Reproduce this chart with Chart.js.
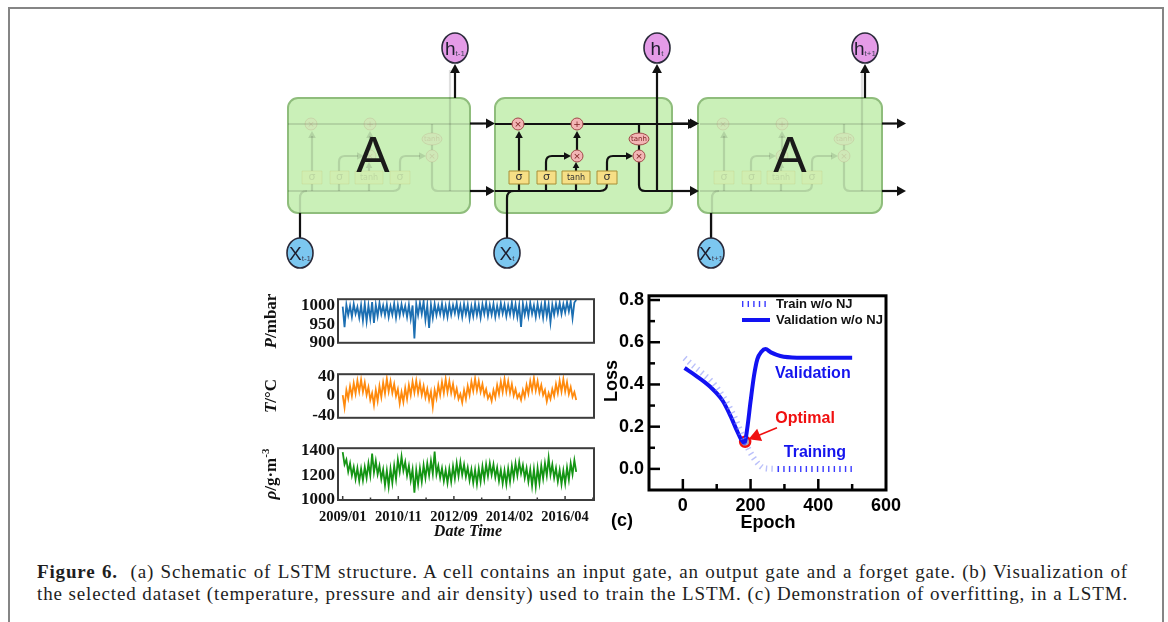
<!DOCTYPE html>
<html>
<head>
<meta charset="utf-8">
<script src="https://cdn.jsdelivr.net/npm/chart.js@4.4.1/dist/chart.umd.min.js"></script>
<style>
  body { margin: 0; background: #fff; width: 1168px; height: 622px; overflow: hidden; position: relative; }
  canvas { position: absolute; }
  #frame { position: absolute; left: 8px; top: 7px; width: 1152px; height: 640px;
           border-left: 2px solid #858585; border-top: 2px solid #858585; border-right: 2px solid #858585; }
  #cap { position: absolute; left: 37px; top: 561px; width: 1091px; font: 19px "Liberation Serif", serif; line-height: 22px;
         color: #1e1e1e; letter-spacing: 0.85px; }
  #cap div { white-space: nowrap; text-align: justify; text-align-last: justify; }
</style>
</head>
<body>
<div id="frame"></div>
<canvas id="lstm" width="640" height="262" style="left:270px;top:22px"></canvas>
<canvas id="pChart" width="345" height="70" style="left:260px;top:286px"></canvas>
<canvas id="tChart" width="345" height="70" style="left:260px;top:361px"></canvas>
<canvas id="rChart" width="345" height="105" style="left:260px;top:435px"></canvas>
<canvas id="lossChart" width="320" height="262" style="left:600px;top:280px"></canvas>
<div id="cap">
  <div><b>Figure 6.</b>&nbsp;&nbsp;(a) Schematic of LSTM structure. A cell contains an input gate, an output gate and a forget gate. (b) Visualization of</div>
  <div>the selected dataset (temperature, pressure and air density) used to train the LSTM. (c) Demonstration of overfitting, in a LSTM.</div>
</div>
<script>
//========== data ==========//

// (b) weather series (alternating high / low of the noise band)
const rowCount = 420000;
const dateTicks = [0, 100000, 200000, 300000, 400000];
const dateLabels = ['2009/01', '2010/11', '2012/09', '2014/02', '2016/04'];

const pressure = [
  998, 942, 1003, 975, 1000, 970, 1005, 978, 997, 968, 1002, 960, 1006, 958, 1001, 965,
  1010, 954, 1003, 972, 1008, 978, 1001, 975, 1004, 970, 999, 976, 1006, 968, 1002, 974,
  1004, 978, 1000, 970, 1003, 965, 1001, 912, 1005, 975, 1008, 978, 1012, 962, 1002, 940,
  1003, 968, 1005, 975, 1001, 978, 1006, 972, 1000, 970, 1004, 976, 1002, 980, 1007, 974,
  1001, 970, 1005, 977, 1003, 966, 999, 972, 1006, 975, 1002, 968, 1004, 978, 1008, 973,
  1002, 976, 1005, 970, 1000, 975, 1007, 979, 1003, 972, 1001, 977, 1009, 974, 1004, 970,
  1002, 943, 1006, 976, 1003, 972, 1008, 978, 1001, 970, 1005, 975, 1002, 968, 1010, 972,
  1004, 955, 1003, 976, 1006, 980, 1008, 978, 1005, 982, 1010, 985, 1012, 967, 1009, 1016
];
const temperature = [
  2, -23, 12, -5, 20, 0, 26, 5, 31, 9, 33, 8, 27, 2, 18, -8,
  6, -18, 12, -10, 20, -2, 27, 5, 35, 9, 30, 6, 24, 0, 14, -15,
  8, -12, 16, -6, 22, 2, 29, 7, 31, 6, 26, 2, 20, -3, 14, -8,
  9, -22, 12, -5, 22, 2, 28, 6, 34, 8, 30, 6, 24, 0, 15, -6,
  4, -13, 12, -6, 20, 2, 29, 10, 35, 11, 30, 8, 24, 2, 14, -5,
  4, -10, 12, -3, 22, 4, 29, 8, 34, 9, 30, 6, 24, 1, 14, -4,
  4, -8, 12, -2, 22, 5, 30, 11, 36, 11, 30, 7, 22, 2, 12, -11,
  6, -6, 14, 0, 24, 6, 31, 9, 34, 9, 28, 4, 18, -2, 8, -8
];
const density = [
  1390, 1290, 1330, 1230, 1300, 1200, 1270, 1170, 1260, 1155, 1255, 1160, 1270, 1180, 1300, 1200,
  1380, 1225, 1320, 1210, 1280, 1170, 1250, 1120, 1240, 1110, 1255, 1140, 1280, 1170, 1330, 1230,
  1355, 1240, 1310, 1200, 1280, 1160, 1250, 1060, 1245, 1130, 1260, 1150, 1285, 1180, 1300, 1200,
  1320, 1215, 1395, 1210, 1280, 1180, 1260, 1155, 1245, 1140, 1255, 1150, 1275, 1175, 1300, 1195,
  1310, 1205, 1290, 1190, 1265, 1160, 1250, 1140, 1245, 1130, 1255, 1150, 1275, 1170, 1290, 1195,
  1300, 1205, 1290, 1185, 1265, 1155, 1245, 1135, 1240, 1130, 1255, 1150, 1280, 1180, 1300, 1200,
  1310, 1215, 1285, 1180, 1260, 1150, 1250, 1115, 1250, 1110, 1260, 1140, 1280, 1175, 1300, 1200,
  1345, 1205, 1290, 1180, 1260, 1150, 1245, 1130, 1240, 1135, 1265, 1165, 1300, 1210, 1325, 1230
];

// (c) loss curves
const trainEpoch = [5, 30, 60, 90, 120, 145, 165, 180, 195, 210, 225, 240, 280, 340, 400, 460, 500];
const trainLoss = [0.525, 0.49, 0.45, 0.405, 0.34, 0.27, 0.2, 0.14, 0.09, 0.05, 0.02, 0.003, 0, 0, 0, 0, 0];
const valEpoch = [5, 40, 80, 117, 141, 160, 172, 182, 190, 200, 210, 220, 232, 244, 260, 288, 337, 420, 500];
const valLoss = [0.478, 0.44, 0.39, 0.324, 0.25, 0.18, 0.14, 0.122, 0.19, 0.32, 0.44, 0.52, 0.555, 0.568, 0.552, 0.535, 0.527, 0.526, 0.526];
const optimalPoint = { x: 184, y: 0.128 };

//========== (a) LSTM schematic ==========//

const lc = document.getElementById('lstm').getContext('2d');
lc.translate(-270, -22);

function rrect(ctx, x, y, w, h, r) {
  ctx.beginPath();
  ctx.moveTo(x + r, y);
  ctx.arcTo(x + w, y, x + w, y + h, r);
  ctx.arcTo(x + w, y + h, x, y + h, r);
  ctx.arcTo(x, y + h, x, y, r);
  ctx.arcTo(x, y, x + w, y, r);
  ctx.closePath();
}
function arrowHead(ctx, x, y, dir, size) {
  size = size || 8;
  ctx.save();
  ctx.translate(x, y);
  ctx.rotate(dir);
  ctx.beginPath();
  ctx.moveTo(0, 0);
  ctx.lineTo(-size, -size * 0.55);
  ctx.lineTo(-size, size * 0.55);
  ctx.closePath();
  ctx.fill();
  ctx.restore();
}
function path(ctx, pts) {
  ctx.beginPath();
  ctx.moveTo(pts[0][0], pts[0][1]);
  for (let i = 1; i < pts.length; i++) ctx.lineTo(pts[i][0], pts[i][1]);
  ctx.stroke();
}
function opCircle(ctx, x, y, sym) {
  ctx.beginPath();
  ctx.arc(x, y, 6, 0, Math.PI * 2);
  ctx.fillStyle = '#f3b5b5';
  ctx.fill();
  ctx.lineWidth = 1;
  ctx.strokeStyle = '#a04848';
  ctx.stroke();
  ctx.fillStyle = '#7a2020';
  ctx.font = '9px "DejaVu Sans"';
  ctx.textAlign = 'center';
  ctx.textBaseline = 'middle';
  ctx.fillText(sym, x, y + 0.5);
}
function gate(ctx, x0, x1, label) {
  ctx.fillStyle = '#f6df86';
  ctx.fillRect(x0, 171, x1 - x0, 13);
  ctx.lineWidth = 1;
  ctx.strokeStyle = '#a88f36';
  ctx.strokeRect(x0, 171, x1 - x0, 13);
  ctx.fillStyle = '#333';
  ctx.font = label === 'tanh' ? '8px "DejaVu Sans"' : '11px "DejaVu Sans"';
  ctx.textAlign = 'center';
  ctx.textBaseline = 'middle';
  ctx.fillText(label, (x0 + x1) / 2, 177.5);
}

// cell internals; ox shifts them, ghost cells are drawn faint
function cellInside(ctx, ox, alpha) {
  ctx.save();
  ctx.globalAlpha = alpha;
  ctx.translate(ox, 0);
  ctx.strokeStyle = '#111';
  ctx.fillStyle = '#111';
  ctx.lineWidth = 2.2;
  ctx.lineJoin = 'round';
  // cell state line
  path(ctx, [[495, 124], [690, 124]]);
  // hidden state line and gate feeds
  path(ctx, [[495, 191], [600, 191]]);
  ctx.beginPath(); ctx.moveTo(600, 191); ctx.quadraticCurveTo(607, 191, 607, 184); ctx.stroke();
  path(ctx, [[519, 191], [519, 184]]);
  path(ctx, [[546, 191], [546, 184]]);
  path(ctx, [[576, 191], [576, 184]]);
  // forget gate
  path(ctx, [[519, 171], [519, 136]]);
  arrowHead(ctx, 519, 131, -Math.PI / 2, 7);
  // input gate
  ctx.beginPath(); ctx.moveTo(546, 171); ctx.lineTo(546, 162); ctx.quadraticCurveTo(546, 156, 552, 156); ctx.lineTo(565, 156); ctx.stroke();
  arrowHead(ctx, 571, 156, 0, 7);
  path(ctx, [[576, 171], [576, 168]]);
  arrowHead(ctx, 576, 162, -Math.PI / 2, 6);
  path(ctx, [[577, 150], [577, 136]]);
  arrowHead(ctx, 577, 131, -Math.PI / 2, 7);
  // output gate
  ctx.beginPath(); ctx.moveTo(607, 171); ctx.lineTo(607, 162); ctx.quadraticCurveTo(607, 156, 613, 156); ctx.lineTo(627, 156); ctx.stroke();
  arrowHead(ctx, 633, 156, 0, 7);
  path(ctx, [[639, 124], [639, 133]]);
  path(ctx, [[639, 145], [639, 150]]);
  ctx.beginPath(); ctx.moveTo(639, 162); ctx.lineTo(639, 185); ctx.quadraticCurveTo(639, 191, 645, 191); ctx.lineTo(690, 191); ctx.stroke();
  // h_t branch
  path(ctx, [[657, 191], [657, 70]]);
  // x_t input
  ctx.beginPath(); ctx.moveTo(507, 238); ctx.lineTo(507, 198); ctx.quadraticCurveTo(507, 191, 514, 191); ctx.stroke();
  opCircle(ctx, 518, 124, '×');
  opCircle(ctx, 577, 124, '+');
  opCircle(ctx, 577, 156, '×');
  opCircle(ctx, 639, 156, '×');
  ctx.beginPath();
  ctx.ellipse(639, 139, 10, 6, 0, 0, Math.PI * 2);
  ctx.fillStyle = '#f3b5b5'; ctx.fill();
  ctx.lineWidth = 1; ctx.strokeStyle = '#a04848'; ctx.stroke();
  ctx.fillStyle = '#7a2020'; ctx.font = '7px "DejaVu Sans"'; ctx.textAlign = 'center'; ctx.textBaseline = 'middle';
  ctx.fillText('tanh', 639, 139.5);
  gate(ctx, 509, 529, 'σ');
  gate(ctx, 537, 556, 'σ');
  gate(ctx, 562, 590, 'tanh');
  gate(ctx, 597, 617, 'σ');
  ctx.restore();
}

function node(ctx, x, y, fill, main, sub) {
  ctx.beginPath();
  ctx.ellipse(x, y, 13, 15, 0, 0, Math.PI * 2);
  ctx.fillStyle = fill;
  ctx.fill();
  ctx.lineWidth = 1.6;
  ctx.strokeStyle = '#2a2a3a';
  ctx.stroke();
  ctx.fillStyle = '#1d1d2d';
  ctx.textBaseline = 'alphabetic';
  ctx.textAlign = 'left';
  ctx.font = '19px "Liberation Sans"';
  const w = ctx.measureText(main).width;
  ctx.font = '8px "Liberation Sans"';
  const sw = ctx.measureText(sub).width;
  const x0 = x - (w + sw) / 2;
  ctx.font = '19px "Liberation Sans"';
  ctx.fillText(main, x0, y + 7);
  ctx.font = '8px "Liberation Sans"';
  ctx.fillStyle = '#44445a';
  ctx.fillText(sub, x0 + w, y + 8);
}

const boxes = [[288, 182], [495, 177], [698, 184]];
boxes.forEach(b => {
  rrect(lc, b[0], 98, b[1], 115, 10);
  lc.fillStyle = 'rgba(196,238,176,0.9)';
  lc.fill();
  lc.lineWidth = 2;
  lc.strokeStyle = '#8fbd7c';
  lc.stroke();
});
cellInside(lc, -207, 0.13);
cellInside(lc, 0, 1);
cellInside(lc, 205, 0.13);

lc.fillStyle = '#1a1a1a';
lc.font = '50px "Liberation Sans"';
lc.textAlign = 'center';
lc.textBaseline = 'middle';
lc.fillText('A', 373, 158);
lc.fillText('A', 790, 158);

// arrows between cells and out of the side cells
lc.strokeStyle = '#111';
lc.fillStyle = '#111';
lc.lineWidth = 2.2;
[[470, 487], [672, 691], [882, 898]].forEach(s => {
  [123.5, 191].forEach(y => {
    path(lc, [[s[0], y], [s[1], y]]);
    arrowHead(lc, s[1] + 8, y, 0, 9);
  });
});
arrowHead(lc, 697, 124, 0, 9);
[455, 657, 865].forEach(x => {
  if (x !== 657) path(lc, [[x, 98], [x, 72]]);
  arrowHead(lc, x, 64, -Math.PI / 2, 9);
});
path(lc, [[300, 238], [300, 213]]);
path(lc, [[711, 238], [711, 213]]);

node(lc, 455, 48, '#e49be7', 'h', 't-1');
node(lc, 657, 48, '#e49be7', 'h', 't');
node(lc, 865, 48, '#e49be7', 'h', 't+1');
node(lc, 300, 253, '#7cc7f0', 'X', 't-1');
node(lc, 507, 253, '#7cc7f0', 'X', 't');
node(lc, 711, 253, '#7cc7f0', 'X', 't+1');

//========== (b) weather panels ==========//

const serif = '"Liberation Serif", "Times New Roman", serif';
const rowStep = rowCount / (pressure.length - 1);

const panelPlugin = {
  id: 'panelFrame',
  afterDraw(chart, args, opts) {
    const { ctx, chartArea: a } = chart;
    ctx.save();
    ctx.lineWidth = 2;
    ctx.strokeStyle = '#3c3c3c';
    ctx.strokeRect(a.left, a.top, a.right - a.left, a.bottom - a.top);
    // inward date ticks on the bottom panel
    if (opts.xTicks) {
      const xs = chart.scales.x;
      ctx.lineWidth = 1.5;
      for (let v = 0; v <= 450000; v += 50000) {
        const px = xs.getPixelForValue(v);
        const len = v % 100000 === 0 ? 4 : 2.5;
        ctx.beginPath();
        ctx.moveTo(px, a.bottom);
        ctx.lineTo(px, a.bottom - len);
        ctx.stroke();
      }
      ctx.fillStyle = '#111';
      ctx.font = 'italic bold 16px ' + serif;
      ctx.textAlign = 'center';
      ctx.textBaseline = 'middle';
      ctx.fillText('Date Time', (a.left + a.right) / 2 + 2, 97);
    }
    // rotated y title with italic symbol
    const parts = opts.title;
    ctx.translate(12, (a.top + a.bottom) / 2);
    ctx.rotate(-Math.PI / 2);
    ctx.fillStyle = '#111';
    ctx.textBaseline = 'middle';
    ctx.textAlign = 'left';
    let total = 0;
    parts.forEach(p => {
      ctx.font = p.font;
      total += ctx.measureText(p.t).width;
    });
    let x = -total / 2;
    parts.forEach(p => {
      ctx.font = p.font;
      ctx.fillText(p.t, x, p.dy || 0);
      x += ctx.measureText(p.t).width;
    });
    ctx.restore();
  }
};

function weatherChart(id, values, color, yMin, yMax, yTicks, title, showDates, pad) {
  return new Chart(document.getElementById(id), {
    type: 'line',
    data: {
      datasets: [{
        data: values.map((v, i) => ({ x: i * rowStep, y: v })),
        borderColor: color,
        borderWidth: 1.8,
        pointRadius: 0,
        tension: 0
      }]
    },
    options: {
      responsive: false,
      animation: false,
      layout: { padding: pad },
      plugins: { legend: { display: false }, tooltip: { enabled: false }, panelFrame: { title: title, xTicks: showDates } },
      scales: {
        x: {
          type: 'linear', min: -8450, max: 452000,
          display: showDates,
          grid: { display: false, drawTicks: false }, border: { display: false },
          afterBuildTicks: s => { s.ticks = dateTicks.map(v => ({ value: v })); },
          afterFit: s => { if (showDates) s.height = 40; },
          ticks: {
            autoSkip: false, maxRotation: 0, padding: 9, color: '#111',
            font: { family: serif, size: 14.5, weight: 'bold' },
            callback: v => dateLabels[dateTicks.indexOf(v)]
          }
        },
        y: {
          min: yMin, max: yMax,
          grid: { display: false, drawTicks: false }, border: { display: false },
          afterBuildTicks: s => { s.ticks = yTicks.map(v => ({ value: v })); },
          afterFit: s => { s.width = 78; },
          ticks: { autoSkip: false, padding: 3, color: '#111', font: { family: serif, size: 17, weight: 'bold' }, callback: v => String(v) }
        }
      }
    },
    plugins: [panelPlugin]
  });
}

const fb = 'bold 17px ' + serif, fi = 'italic bold 17px ' + serif;
weatherChart('pChart', pressure, '#1c6fb2', 900, 1018, [900, 950, 1000],
  [{ t: 'P', font: fi }, { t: '/mbar', font: fb }], false, { top: 5, right: 11, bottom: 5 });
weatherChart('tChart', temperature, '#ff8a0d', -44, 44, [-40, 0, 40],
  [{ t: 'T', font: fi }, { t: '/°C', font: fb }], false, { top: 5, right: 11, bottom: 6 });
weatherChart('rChart', density, '#149514', 1000, 1423, [1000, 1200, 1400],
  [{ t: 'ρ', font: fi }, { t: '/g·m', font: fb }, { t: '-3', font: 'bold 11px ' + serif, dy: -6 }], true, { top: 5, right: 11, bottom: 0 });

//========== (c) loss ==========//

const sans = '"Liberation Sans", Arial, sans-serif';
const lossPlugin = {
  id: 'lossDecor',
  afterDraw(chart) {
    const { ctx, chartArea: a, scales: { x, y } } = chart;
    ctx.save();
    ctx.strokeStyle = '#000';
    ctx.lineWidth = 3;
    ctx.strokeRect(a.left, a.top, a.right - a.left, a.bottom - a.top);
    ctx.lineWidth = 2.5;
    [0, 100, 200, 300, 400, 500].forEach(v => {
      const px = x.getPixelForValue(v), len = v % 200 === 0 ? 11 : 6;
      ctx.beginPath(); ctx.moveTo(px, a.bottom); ctx.lineTo(px, a.bottom - len); ctx.stroke();
    });
    [0, 0.1, 0.2, 0.3, 0.4, 0.5, 0.6, 0.7, 0.8].forEach((v, i) => {
      const py = y.getPixelForValue(v), len = i % 2 === 0 ? 11 : 6;
      ctx.beginPath(); ctx.moveTo(a.left, py); ctx.lineTo(a.left + len, py); ctx.stroke();
    });
    // legend
    const ds = chart.data.datasets;
    ctx.textBaseline = 'middle';
    ctx.textAlign = 'left';
    ctx.font = 'bold 13px ' + sans;
    ctx.fillStyle = '#111';
    [[ds[0], 24, '#3a3aff'], [ds[1], 40, ds[1].borderColor]].forEach(([d, yy, c]) => {
      ctx.save();
      ctx.strokeStyle = c;
      ctx.lineWidth = d.borderWidth;
      ctx.setLineDash(d.borderDash || []);
      ctx.beginPath(); ctx.moveTo(142, yy); ctx.lineTo(170, yy); ctx.stroke();
      ctx.restore();
      ctx.fillText(d.label, 176, yy);
    });
    // annotations
    ctx.textAlign = 'center';
    ctx.font = 'bold 16px ' + sans;
    ctx.fillStyle = '#1414ee';
    ctx.fillText('Validation', x.getPixelForValue(384), y.getPixelForValue(0.452));
    ctx.fillText('Training', x.getPixelForValue(390), y.getPixelForValue(0.075));
    ctx.fillStyle = '#f01010';
    ctx.fillText('Optimal', x.getPixelForValue(361), y.getPixelForValue(0.237));
    const ax0 = x.getPixelForValue(278), ay0 = y.getPixelForValue(0.195);
    const ax1 = x.getPixelForValue(194), ay1 = y.getPixelForValue(0.14);
    ctx.strokeStyle = '#f01010';
    ctx.lineWidth = 1.6;
    ctx.beginPath(); ctx.moveTo(ax0, ay0); ctx.lineTo(ax1 + 8, ay1 - 3); ctx.stroke();
    arrowHead(ctx, ax1, ay1, Math.atan2(ay1 - ay0, ax1 - ax0), 12);
    // axis titles
    ctx.fillStyle = '#000';
    ctx.font = 'bold 18px ' + sans;
    ctx.fillText('Epoch', 168, 243);
    ctx.fillText('(c)', 22, 241);
    ctx.translate(12, 101);
    ctx.rotate(-Math.PI / 2);
    ctx.fillText('Loss', 0, 0);
    ctx.restore();
  }
};

new Chart(document.getElementById('lossChart'), {
  type: 'line',
  data: {
    datasets: [
      {
        label: 'Train w/o NJ',
        data: trainEpoch.map((e, i) => ({ x: e, y: trainLoss[i] })),
        borderColor: '#3a3aff', borderWidth: 6, borderDash: [1.4, 4.2],
        segment: { borderColor: c => (c.p0.parsed.y > 0.002 ? 'rgba(130,140,245,0.55)' : '#3a3aff') },
        pointRadius: 0, cubicInterpolationMode: 'monotone'
      },
      {
        label: 'Validation w/o NJ',
        data: valEpoch.map((e, i) => ({ x: e, y: valLoss[i] })),
        borderColor: '#1212f2', borderWidth: 4,
        pointRadius: 0, cubicInterpolationMode: 'monotone'
      },
      {
        label: 'Optimal',
        data: [optimalPoint],
        showLine: false,
        pointRadius: 5, pointBorderWidth: 2.5,
        pointBorderColor: '#f01010', pointBackgroundColor: '#b4b4b4'
      }
    ]
  },
  options: {
    responsive: false,
    animation: false,
    layout: { padding: { top: 7, right: 34, left: 0, bottom: 0 } },
    plugins: { legend: { display: false }, tooltip: { enabled: false } },
    scales: {
      x: {
        type: 'linear', min: -100, max: 600,
        grid: { display: false, drawTicks: false }, border: { display: false },
        afterBuildTicks: s => { s.ticks = [0, 200, 400, 600].map(v => ({ value: v })); },
        afterFit: s => { s.height = 52; },
        ticks: { padding: 5, color: '#000', maxRotation: 0, font: { family: sans, size: 18, weight: 'bold' } }
      },
      y: {
        min: -0.1, max: 0.82,
        grid: { display: false, drawTicks: false }, border: { display: false },
        afterBuildTicks: s => { s.ticks = [0, 0.2, 0.4, 0.6, 0.8].map(v => ({ value: v })); },
        afterFit: s => { s.width = 49; },
        ticks: { padding: 5, color: '#000', font: { family: sans, size: 18, weight: 'bold' }, callback: v => v.toFixed(1) }
      }
    }
  },
  plugins: [lossPlugin]
});
</script>
</body>
</html>
